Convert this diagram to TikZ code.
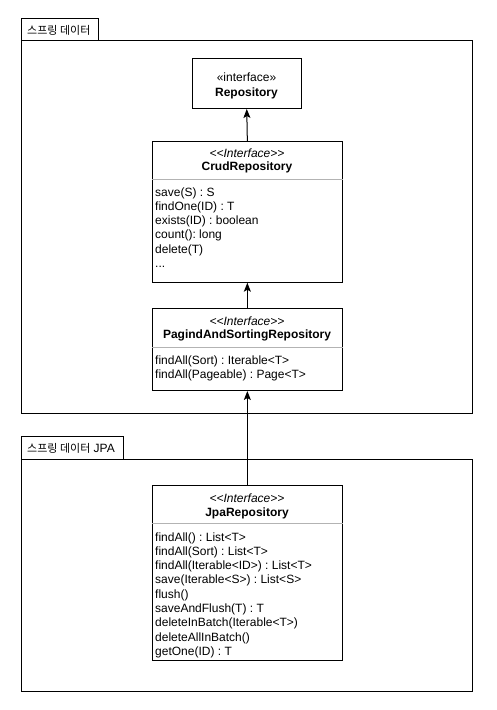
\documentclass[tikz,border=0pt]{standalone}
\usepackage{fontspec}
\newfontfamily\uifont{Liberation Sans}
\newfontfamily\krfont{Noto Sans CJK KR}
\usepackage{tikz}
\usetikzlibrary{arrows.meta}
\tikzset{>={Stealth[length=9pt,width=7pt,inset=2pt]}}
\definecolor{sepgray}{HTML}{B3B3B3}
\newcommand{\dfont}{\uifont\frenchspacing\fontsize{12pt}{14.3pt}\selectfont}
\newcommand{\krtext}[1]{{\krfont\fontsize{11pt}{12pt}\selectfont #1}}
\tikzset{
  frame/.style={draw,line width=1pt,anchor=north west},
  klass/.style={draw,line width=1pt,anchor=north west,inner sep=0pt},
  stereo/.style={anchor=base,inner sep=0pt,font=\dfont\itshape},
  cname/.style={anchor=base,inner sep=0pt,font=\dfont\bfseries},
  member/.style={anchor=base west,inner sep=0pt,font=\dfont},
  tablabel/.style={anchor=base west,inner sep=0pt,font=\dfont},
  sepline/.style={draw=sepgray,line width=0.8pt},
  inherit/.style={->,line width=1pt}
}

\begin{document}
\begin{tikzpicture}[x=1pt,y=-1pt]
\useasboundingbox (0,0) rectangle (497,710);
% Spring Data frame
\node[frame,minimum width=76.5pt,minimum height=22pt] (datatab) at (21,18) {};
\node[tablabel] (datalabel) at (27,34) {\krtext{스프링 데이터}};
\node[frame,minimum width=450.5pt,minimum height=373pt] (dataframe) at (21,40) {};
% Spring Data JPA frame
\node[frame,minimum width=102pt,minimum height=23pt] (jpatab) at (21,436) {};
\node[tablabel] (jpalabel) at (27,452.5) {\krtext{스프링 데이터} JPA};
\node[frame,minimum width=451pt,minimum height=232pt] (jpaframe) at (21,459) {};
% Repository
\node[klass,minimum width=109.5pt,minimum height=50pt] (repo) at (191.5,58) {};
\node[anchor=base,inner sep=0pt,font=\dfont] (repost) at (246.5,81) {«interface»};
\node[cname] (reponame) at (246.5,96) {Repository};
% CrudRepository
\node[klass,minimum width=189.7pt,minimum height=140.7pt] (crud) at (152,141) {};
\node[stereo] (crudst) at (247,157) {<<Interface>>};
\node[cname] (crudname) at (247,170.5) {CrudRepository};
\draw[sepline] ([yshift=-38pt]crud.north west) -- ([yshift=-38pt]crud.north east);
\foreach \m [count=\i] in {save(S) : S, findOne(ID) : T, exists(ID) : boolean,
    count(): long, delete(T)}
  \node[member] (crudm\i) at (155,{196+14.3*(\i-1)}) {\m};
\node[member] (crudm6) at (155,267.5) {.{}.{}.};
% PagingAndSortingRepository
\node[klass,minimum width=189.7pt,minimum height=82pt] (paging) at (152,308) {};
\node[stereo] (pagingst) at (247,325) {<<Interface>>};
\node[cname] (pagingname) at (247,338.5) {PagindAndSortingRepository};
\draw[sepline] ([yshift=-39pt]paging.north west) -- ([yshift=-39pt]paging.north east);
\foreach \m [count=\i] in {findAll(Sort) : Iterable<T>, findAll(Pageable) : Page<T>}
  \node[member] (pagingm\i) at (155,{364.3+14.3*(\i-1)}) {\m};
% JpaRepository
\node[klass,minimum width=189.7pt,minimum height=175pt] (jpa) at (152,485) {};
\node[stereo] (jpast) at (247,502.5) {<<Interface>>};
\node[cname] (jpaname) at (247,516) {JpaRepository};
\draw[sepline] ([yshift=-38.5pt]jpa.north west) -- ([yshift=-38.5pt]jpa.north east);
\foreach \m [count=\i] in {findAll() : List<T>, findAll(Sort) : List<T>,
    findAll(Iterable<ID>) : List<T>, save(Iterable<S>) : List<S>, flush(),
    saveAndFlush(T) : T, deleteInBatch(Iterable<T>), deleteAllInBatch(), getOne(ID) : T}
  \node[member] (jpam\i) at (155,{541+14.3*(\i-1)}) {\m};
% inheritance
\draw[inherit] (crud.north) -- (repo.south);
\draw[inherit] (paging.north) -- (crud.south);
\draw[inherit] (jpa.north) -- (paging.south);
\end{tikzpicture}
\end{document}
